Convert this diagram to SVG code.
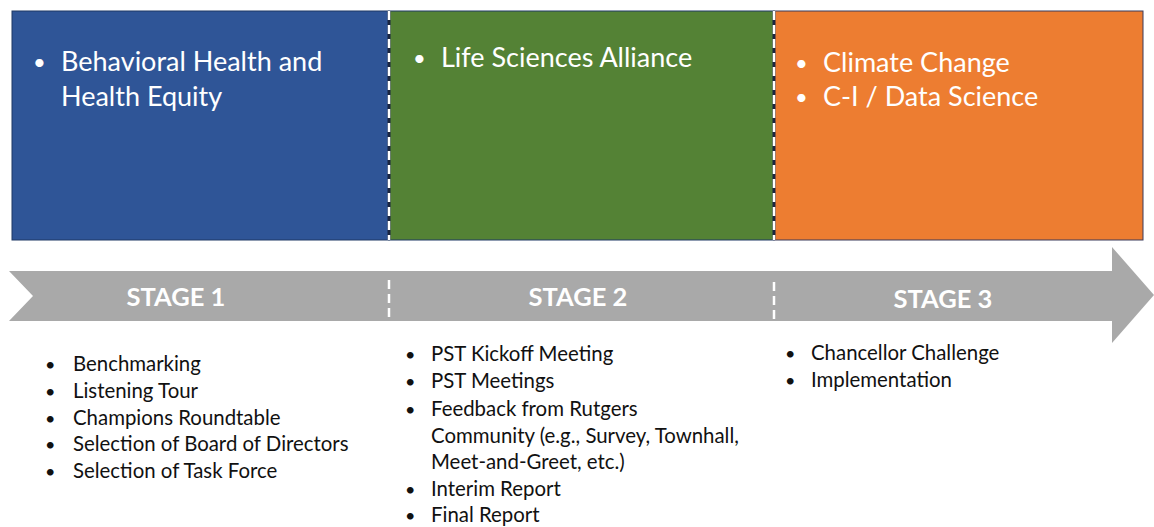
<svg xmlns="http://www.w3.org/2000/svg" width="1154" height="527" viewBox="0 0 1154 527">
<style>
.top{font-family:Lato,"Open Sans",sans-serif;font-size:27px;fill:#fff}
.bt{font-family:Lato,"Open Sans",sans-serif;font-size:22px;fill:#fff}
.stage{font-family:Lato,"Open Sans",sans-serif;font-size:25.5px;font-weight:bold;fill:#fff}
.item{font-family:Lato,"Open Sans",sans-serif;font-size:20.4px;fill:#111}
.bi{font-family:Lato,"Open Sans",sans-serif;font-size:18px;fill:#111}
.div{stroke:#fff;stroke-width:2.5;stroke-dasharray:9 5}
</style>
<rect width="1154" height="527" fill="#fff"/>
<g id="stage1-box">
<rect x="12" y="11" width="377" height="229" fill="#2F5597" stroke="#1f3864" stroke-width="1"/>
<text class="bt" x="33" y="70">•</text>
<text class="top" x="61" y="71">Behavioral Health and</text>
<text class="top" x="61" y="106">Health Equity</text>
</g>
<g id="stage2-box">
<rect x="389" y="11" width="385" height="229" fill="#548235" stroke="#1f3864" stroke-width="1"/>
<text class="bt" x="413" y="66">•</text>
<text class="top" x="441" y="67">Life Sciences Alliance</text>
</g>
<g id="stage3-box">
<rect x="774" y="11" width="369" height="229" fill="#ED7D31" stroke="#3b3b5b" stroke-width="1"/>
<text class="bt" x="795" y="71">•</text>
<text class="top" x="823" y="72">Climate Change</text>
<text class="bt" x="795" y="105">•</text>
<text class="top" x="823" y="106">C-I / Data Science</text>
</g>
<g id="arrow">
<polygon points="9,271 1112,271 1112,247 1154,295 1112,343 1112,321 9,321 33,296" fill="#A9A9A9"/>
<text class="stage" x="176" y="306" text-anchor="middle">STAGE 1</text>
<text class="stage" x="578" y="306" text-anchor="middle">STAGE 2</text>
<text class="stage" x="943" y="308" text-anchor="middle">STAGE 3</text>
</g>
<g id="connectors">
<line x1="389" y1="11" x2="389" y2="240" stroke="#1a2540" stroke-width="3"/>
<line class="div" x1="389" y1="11" x2="389" y2="240"/>
<line x1="774" y1="11" x2="774" y2="240" stroke="#1a2540" stroke-width="3"/>
<line class="div" x1="774" y1="11" x2="774" y2="240"/>
<line class="div" x1="389" y1="280" x2="389" y2="321" stroke-width="1.5"/>
<line class="div" x1="774" y1="282" x2="774" y2="321" stroke-width="1.5"/>
</g>
<g id="stage1-list">
<text class="bi" x="45" y="371">•</text><text class="item" x="73" y="371">Benchmarking</text>
<text class="bi" x="45" y="398">•</text><text class="item" x="73" y="398">Listening Tour</text>
<text class="bi" x="45" y="425">•</text><text class="item" x="73" y="425">Champions Roundtable</text>
<text class="bi" x="45" y="451">•</text><text class="item" x="73" y="451">Selection of Board of Directors</text>
<text class="bi" x="45" y="478">•</text><text class="item" x="73" y="478">Selection of Task Force</text>
</g>
<g id="stage2-list">
<text class="bi" x="405" y="361">•</text><text class="item" x="431" y="361">PST Kickoff Meeting</text>
<text class="bi" x="405" y="388">•</text><text class="item" x="431" y="388">PST Meetings</text>
<text class="bi" x="405" y="416">•</text><text class="item" x="431" y="416">Feedback from Rutgers</text>
<text class="item" x="431" y="443">Community (e.g., Survey, Townhall,</text>
<text class="item" x="431" y="469">Meet-and-Greet, etc.)</text>
<text class="bi" x="405" y="496">•</text><text class="item" x="431" y="496">Interim Report</text>
<text class="bi" x="405" y="522">•</text><text class="item" x="431" y="522">Final Report</text>
</g>
<g id="stage3-list">
<text class="bi" x="785" y="360">•</text><text class="item" x="811" y="360">Chancellor Challenge</text>
<text class="bi" x="785" y="387">•</text><text class="item" x="811" y="387">Implementation</text>
</g>
</svg>
